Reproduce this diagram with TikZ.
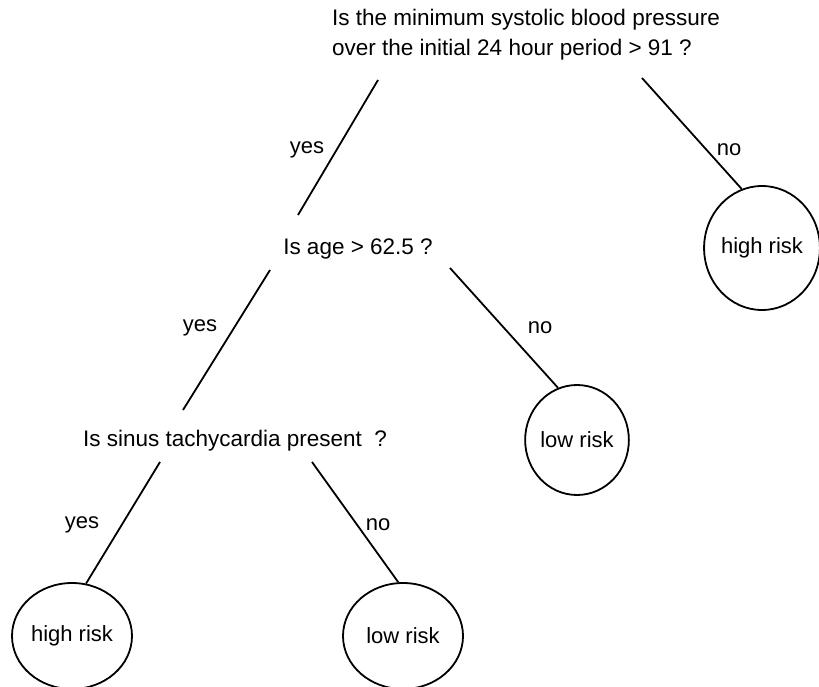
\documentclass[tikz,border=0pt]{standalone}
\usepackage{fontspec}
\setmainfont{Liberation Sans}
\usetikzlibrary{shapes.geometric}
\begin{document}
\begin{tikzpicture}[x=1pt,y=-1pt,
  txt/.style={font=\fontsize{22.5}{30}\selectfont, inner sep=0pt},
  leaf/.style={draw, ellipse, line width=1.8pt, inner sep=0pt, font=\fontsize{22}{24}\selectfont},
  edge/.style={line width=1.8pt},
  lbl/.style={font=\fontsize{22}{24}\selectfont, inner sep=0pt}]
\useasboundingbox (0,0) rectangle (819,687);
% decision nodes
\node[txt, align=left, anchor=west] (root) at (332,35) {Is the minimum systolic blood pressure\\over the initial 24 hour period > 91 ?};
\node[txt] (age) at (358,249) {Is age > 62.5 ?};
\node[txt] (sinus) at (235,441) {Is sinus tachycardia present\ \ ?};
% leaves
\node[leaf, minimum width=108, minimum height=124] (hr1) at (762,248) {high risk};
\node[leaf, minimum width=100, minimum height=110] (lr1) at (577,440) {low risk};
\node[leaf, minimum width=120, minimum height=106] (hr2) at (72,636) {high risk};
\node[leaf, minimum width=120, minimum height=106] (lr2) at (403,636) {low risk};
% connector start/end points
\coordinate (rootL) at (378,80);
\coordinate (rootR) at (642,78);
\coordinate (ageT) at (298,215);
\coordinate (ageL) at (270,270);
\coordinate (ageR) at (450,268);
\coordinate (sinusT) at (183,410);
\coordinate (sinusL) at (160,462);
\coordinate (sinusR) at (312,462);
% connectors
\draw[edge] (rootL) -- (ageT);
\draw[edge] (rootR) -- (hr1.109);
\draw[edge] (ageL) -- (sinusT);
\draw[edge] (ageR) -- (lr1.110);
\draw[edge] (sinusL) -- (hr2.75);
\draw[edge] (sinusR) -- (lr2.95);
% labels
\node[lbl] (y1) at (307,150) {yes};
\node[lbl] (n1) at (729,150) {no};
\node[lbl] (y2) at (200,328) {yes};
\node[lbl] (n2) at (540,328) {no};
\node[lbl] (y3) at (82,525) {yes};
\node[lbl] (n3) at (378,525) {no};
\end{tikzpicture}
\end{document}
